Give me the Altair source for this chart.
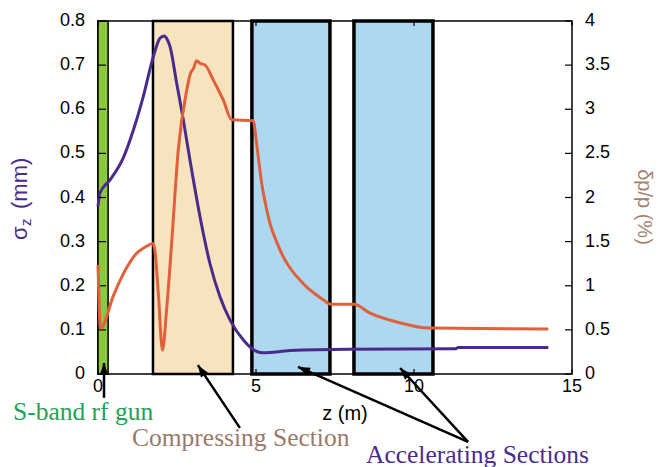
import math
import altair as alt
import pandas as pd

# Bunch length sigma_z (mm) along the beamline z (m)
sigma_pos = [0.0, 0.06, 0.38, 0.8, 1.12, 1.43, 1.75, 1.96, 2.09, 2.2, 2.28, 2.49,
             2.70, 2.91, 3.23, 3.54, 3.86, 4.18, 4.60, 5.02, 5.23, 6.08, 7.97,
             11.3, 11.4, 14.25]
sigma_mm = [0.38, 0.41, 0.44, 0.49, 0.553, 0.628, 0.719, 0.761, 0.766, 0.757,
            0.742, 0.659, 0.576, 0.485, 0.356, 0.251, 0.175, 0.122, 0.077, 0.051,
            0.048, 0.053, 0.056, 0.057, 0.060, 0.060]

# Energy spread dp/p (%) along the beamline z (m)
dp_pos = [0.0, 0.08, 0.5, 0.9, 1.2, 1.5, 1.74, 1.80, 1.91, 2.04, 2.17, 2.33, 2.54,
          2.81, 2.92, 3.02, 3.12, 3.23, 3.39, 3.65, 3.97, 4.23, 4.91, 5.02, 5.10,
          5.18, 5.30, 5.44, 5.65, 5.86, 6.10, 6.39, 6.65, 6.92, 7.15, 7.36, 8.10,
          8.61, 9.45, 10.5, 14.25]
dp_pct = [1.235, 0.52, 0.9, 1.2, 1.36, 1.44, 1.48, 1.40, 0.91, 0.27, 0.725, 1.48,
          2.54, 3.22, 3.40, 3.46, 3.55, 3.52, 3.50, 3.33, 3.10, 2.88, 2.87, 2.61,
          2.38, 2.16, 1.93, 1.71, 1.50, 1.33, 1.19, 1.065, 0.97, 0.895, 0.835,
          0.79, 0.79, 0.69, 0.59, 0.52, 0.51]

# Beamline sections (m)
section_start = [0.0, 1.74, 4.87, 8.10]
section_end = [0.32, 4.27, 7.34, 10.60]
section_kind = ["gun", "compressor", "accelerator", "accelerator"]

# Axis ticks
z_ticks = [0, 5, 10, 15]
sigma_ticks = [0, 0.1, 0.2, 0.3, 0.4, 0.5, 0.6, 0.7, 0.8]
dp_ticks = [0, 0.5, 1, 1.5, 2, 2.5, 3, 3.5, 4]

# Pointer arrows to the sections, in (z, sigma_z) units
arrow_tail_z = [0.19, 4.49, 11.71, 11.71]
arrow_tail_s = [-0.054, -0.122, -0.154, -0.154]
arrow_tip_z = [0.19, 3.16, 6.33, 9.56]
arrow_tip_s = [0.025, 0.020, 0.016, 0.0136]

W, H = 474, 353
Z_DOM, S_DOM, D_DOM = [0, 15], [0, 0.8], [0, 4]

PURPLE = "#4a2a8c"
ORANGE = "#e0603c"
SANS = "Liberation Sans"
SERIF = "Liberation Serif"

xs = alt.Scale(domain=Z_DOM, nice=False, zero=False)
ys = alt.Scale(domain=S_DOM, nice=False)
yd = alt.Scale(domain=D_DOM, nice=False)

sigma_df = pd.DataFrame({"z": sigma_pos, "sigma": sigma_mm})
dp_df = pd.DataFrame({"z": dp_pos, "dp": dp_pct})
sec_df = pd.DataFrame({"start": section_start, "end": section_end, "kind": section_kind})


def tick_frame(ticks):
    return pd.DataFrame({"t": ticks, "lab": [f"{t:g}" for t in ticks]})


# arrowhead orientation from the on-screen direction of each pointer
angles = []
for tz, ts, hz, hs in zip(arrow_tail_z, arrow_tail_s, arrow_tip_z, arrow_tip_s):
    dx = (hz - tz) * W / (Z_DOM[1] - Z_DOM[0])
    dy = -(hs - ts) * H / (S_DOM[1] - S_DOM[0])
    angles.append(math.degrees(math.atan2(dx, -dy)) % 360)
arrow_df = pd.DataFrame({"tz": arrow_tail_z, "ts": arrow_tail_s,
                         "hz": arrow_tip_z, "hs": arrow_tip_s, "ang": angles})

sections = alt.Chart(sec_df).mark_rect(stroke="black").encode(
    x=alt.X("start:Q", scale=xs, axis=None),
    x2="end:Q",
    y=alt.value(0),
    y2=alt.value(H),
    fill=alt.Fill("kind:N", legend=None,
                  scale=alt.Scale(domain=["gun", "compressor", "accelerator"],
                                  range=["#8dc63f", "#f8e3bf", "#add8f0"])),
    strokeWidth=alt.StrokeWidth("kind:N", legend=None,
                                scale=alt.Scale(domain=["gun", "compressor", "accelerator"],
                                                range=[1.5, 3.5, 3.5])),
)

sigma_line = alt.Chart(sigma_df).mark_line(
    color=PURPLE, strokeWidth=3, interpolate="monotone").encode(
    x=alt.X("z:Q", scale=xs, axis=None),
    y=alt.Y("sigma:Q", scale=ys, axis=None),
)

arrow_lines = alt.Chart(arrow_df).mark_rule(color="black", strokeWidth=2.5).encode(
    x=alt.X("tz:Q", scale=xs, axis=None), x2="hz:Q",
    y=alt.Y("ts:Q", scale=ys, axis=None), y2="hs:Q",
)
arrow_heads = alt.Chart(arrow_df).mark_point(
    shape="M0,0L0.36,1L-0.36,1Z", filled=True, size=576, color="black",
    opacity=1, strokeWidth=0,
).encode(
    x=alt.X("hz:Q", scale=xs, axis=None),
    y=alt.Y("hs:Q", scale=ys, axis=None),
    angle=alt.Angle("ang:Q", scale=None),
)

# inward tick marks on all four sides
left_ticks = alt.Chart(tick_frame(sigma_ticks)).mark_rule(
    color="black", strokeWidth=1.2).encode(
    y=alt.Y("t:Q", scale=ys, axis=None), x=alt.value(0), x2=alt.value(8))
bottom_ticks = alt.Chart(tick_frame(z_ticks)).mark_rule(
    color="black", strokeWidth=1.2).encode(
    x=alt.X("t:Q", scale=xs, axis=None), y=alt.value(H - 5), y2=alt.value(H))
top_ticks = alt.Chart(tick_frame(z_ticks)).mark_rule(
    color="black", strokeWidth=1.2).encode(
    x=alt.X("t:Q", scale=xs, axis=None), y=alt.value(0), y2=alt.value(5))

# tick labels
left_labels = alt.Chart(tick_frame(sigma_ticks)).mark_text(
    font=SANS, fontSize=18, color="black", align="right", baseline="middle").encode(
    y=alt.Y("t:Q", scale=ys, axis=None), x=alt.value(-13), text="lab:N")
bottom_labels = alt.Chart(tick_frame(z_ticks)).mark_text(
    font=SANS, fontSize=18, color="black", align="center", baseline="top").encode(
    x=alt.X("t:Q", scale=xs, axis=None), y=alt.value(H + 4), text="lab:N")


def label(text, x, y, color, size, font, **kw):
    return alt.Chart(pd.DataFrame({"s": [text]})).mark_text(
        color=color, fontSize=size, font=font, **kw).encode(
        text="s:N", x=alt.value(x), y=alt.value(y))


annotations = [
    label("z (m)", 247, H + 46, "black", 20, SANS, align="center", baseline="alphabetic"),
    label("S-band rf gun", -85, 399, "#1ea356", 25.5, SERIF, align="left", baseline="alphabetic"),
    label("Compressing Section", 34, 425, "#9a7a68", 25.5, SERIF, align="left", baseline="alphabetic"),
    label("Accelerating Sections", 268, 442, "#4b2c8c", 25.5, SERIF, align="left", baseline="alphabetic"),
    # left axis title: sigma with subscript z
    label("σ", -71, 219, PURPLE, 22, SANS, align="left", baseline="alphabetic", angle=270),
    label("z", -67, 205, PURPLE, 15, SANS, align="left", baseline="alphabetic", angle=270),
    label("(mm)", -71, 188, PURPLE, 22, SANS, align="left", baseline="alphabetic", angle=270),
    # right axis title
    label("δp/p (%)", 546, 186, "#a5826e", 20, SANS, align="center", baseline="middle", angle=90),
]

left = alt.layer(sections, sigma_line, arrow_lines, arrow_heads,
                 left_ticks, bottom_ticks, top_ticks, left_labels, bottom_labels,
                 *annotations)

dp_line = alt.Chart(dp_df).mark_line(
    color=ORANGE, strokeWidth=3, interpolate="monotone").encode(
    x=alt.X("z:Q", scale=xs, axis=None),
    y=alt.Y("dp:Q", scale=yd, axis=None),
)
right_ticks = alt.Chart(tick_frame(dp_ticks)).mark_rule(
    color="black", strokeWidth=1.2).encode(
    y=alt.Y("t:Q", scale=yd, axis=None), x=alt.value(W - 7), x2=alt.value(W))
right_labels = alt.Chart(tick_frame(dp_ticks)).mark_text(
    font=SANS, fontSize=18, color="black", align="left", baseline="middle").encode(
    y=alt.Y("t:Q", scale=yd, axis=None), x=alt.value(W + 13), text="lab:N")

right = alt.layer(dp_line, right_ticks, right_labels)

chart = alt.layer(left, right).resolve_scale(y="independent").properties(
    width=W, height=H,
    padding={"left": 98, "top": 21, "right": 94, "bottom": 93},
    autosize=alt.AutoSizeParams(type="none"),
    background="white",
).configure_view(stroke="black", strokeWidth=1.5)

chart.save("out.html", embed_options={"renderer": "svg", "actions": False})
